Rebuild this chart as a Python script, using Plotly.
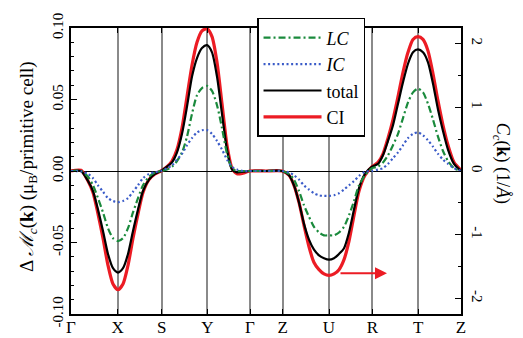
import plotly.graph_objects as go

# k-path coordinate (distance along the path) and high-symmetry points
k_path = [0, 10, 17, 22, 27, 32, 37, 42, 47, 52, 57, 62, 67, 72, 78, 84, 90,
          96, 101, 106, 111, 116, 121, 126, 131, 136, 141, 146, 151, 156, 161, 166, 172, 179, 195, 211,
          218, 223, 228, 233, 238, 243, 248, 253, 258, 263, 268, 273, 278, 283, 288, 294, 301,
          307, 312, 317, 322, 327, 332, 337, 342, 347, 352, 357, 362, 367, 372, 377, 383, 390]

sym_pos = [0, 46.7, 90.7, 136.3, 179, 211.7, 258, 301.3, 347.3, 390]
sym_lab = ["Γ", "X", "S", "Y", "Γ", "Z", "U", "R", "T", "Z"]

total = [0, 0, -0.007, -0.014, -0.027, -0.042, -0.058, -0.068, -0.071, -0.068, -0.058, -0.042, -0.027, -0.014, -0.006, -0.002, 0,
         0.003, 0.006, 0.013, 0.026, 0.045, 0.066, 0.079, 0.086, 0.088, 0.083, 0.066, 0.040, 0.015, 0.001, -0.001, -0.0005, 0, 0, 0,
         -0.003, -0.010, -0.022, -0.037, -0.048, -0.055, -0.059, -0.061, -0.062, -0.061, -0.058, -0.054, -0.043, -0.027, -0.012, -0.002, 0.003,
         0.005, 0.011, 0.021, 0.032, 0.047, 0.062, 0.075, 0.083, 0.085, 0.083, 0.076, 0.061, 0.043, 0.028, 0.015, 0.005, 0]

ci = [0, 0.0005, -0.007, -0.015, -0.030, -0.047, -0.066, -0.079, -0.083, -0.079, -0.066, -0.047, -0.030, -0.015, -0.006, -0.002, 0,
      0.003, 0.007, 0.015, 0.030, 0.052, 0.074, 0.090, 0.098, 0.0995, 0.094, 0.076, 0.047, 0.018, 0.002, -0.002, -0.0015, 0, 0, 0,
      -0.003, -0.010, -0.022, -0.038, -0.053, -0.064, -0.069, -0.072, -0.073, -0.072, -0.069, -0.062, -0.049, -0.031, -0.014, -0.003, 0.003,
      0.006, 0.012, 0.023, 0.036, 0.052, 0.069, 0.083, 0.092, 0.094, 0.092, 0.084, 0.068, 0.049, 0.032, 0.018, 0.006, 0.0005]

lc = [0, 0, -0.004, -0.010, -0.019, -0.029, -0.040, -0.047, -0.049, -0.047, -0.040, -0.029, -0.019, -0.010, -0.004, -0.001, 0,
      0.001, 0.003, 0.007, 0.013, 0.024, 0.040, 0.053, 0.058, 0.0595, 0.056, 0.046, 0.030, 0.012, 0.002, 0, 0, 0, 0, 0,
      -0.002, -0.006, -0.014, -0.024, -0.032, -0.039, -0.043, -0.045, -0.045, -0.045, -0.043, -0.039, -0.031, -0.021, -0.010, -0.003, 0.002,
      0.003, 0.006, 0.011, 0.018, 0.026, 0.037, 0.048, 0.055, 0.0576, 0.055, 0.047, 0.036, 0.024, 0.014, 0.007, 0.002, 0]

ic = [0, -0.0003, -0.002, -0.005, -0.010, -0.0145, -0.019, -0.021, -0.0218, -0.021, -0.019, -0.0145, -0.010, -0.005, -0.002, -0.0008, 0,
      0.002, 0.004, 0.008, 0.012, 0.018, 0.023, 0.027, 0.0285, 0.0286, 0.026, 0.021, 0.015, 0.008, 0.003, 0.001, 0, 0, 0, 0,
      -0.001, -0.003, -0.006, -0.010, -0.013, -0.0155, -0.017, -0.0174, -0.0174, -0.017, -0.0155, -0.013, -0.010, -0.007, -0.0035, -0.0005, 0,
      0.001, 0.002, 0.005, 0.009, 0.013, 0.018, 0.023, 0.026, 0.027, 0.025, 0.0215, 0.017, 0.012, 0.008, 0.005, 0.002, 0]

left_ticks = [-0.10, -0.05, 0.0, 0.05, 0.10]
left_tick_text = ["-0.10", "-0.05", "0.00", "0.05", "0.10"]
right_ticks = [-2, -1, 0, 1, 2]
right_tick_text = ["-2", "-1", "0", "1", "2"]

arrow_start = (268, -0.0715)
arrow_end = (316, -0.0715)

FONT = "Liberation Serif, Times New Roman, serif"

fig = go.Figure()
fig.add_trace(go.Scatter(x=k_path, y=ci, mode="lines", name="CI", legendrank=4,
                         line=dict(color="#ec1c24", width=3.2, shape="spline", smoothing=0.7)))
fig.add_trace(go.Scatter(x=k_path, y=total, mode="lines", name="total", legendrank=3,
                         line=dict(color="black", width=2.2, shape="spline", smoothing=0.7)))
fig.add_trace(go.Scatter(x=k_path, y=lc, mode="lines", name="<i>LC</i>", legendrank=1,
                         line=dict(color="#1a8a3c", width=2.2, dash="7px,3px,2px,3px", shape="spline", smoothing=0.7)))
fig.add_trace(go.Scatter(x=k_path, y=ic, mode="lines", name="<i>IC</i>", legendrank=2,
                         line=dict(color="#3a5bc8", width=2.2, dash="2px,2.6px", shape="spline", smoothing=0.7)))
fig.add_trace(go.Scatter(x=[None], y=[None], yaxis="y2", showlegend=False, hoverinfo="skip"))

fig.update_layout(
    width=523, height=338,
    margin=dict(l=71, r=62, t=28, b=24, autoexpand=False),
    plot_bgcolor="white", paper_bgcolor="white",
    font=dict(family=FONT, color="black"),
    showlegend=True,
    legend=dict(x=0.477, y=1.035, xanchor="left", yanchor="top",
                bordercolor="black", borderwidth=1.5, bgcolor="white",
                font=dict(family=FONT, size=18), itemwidth=58, tracegroupgap=0),
    xaxis=dict(range=[0, 390], tickvals=sym_pos, ticktext=sym_lab,
               showgrid=True, gridcolor="#8a8a8a", gridwidth=1.5,
               ticks="inside", ticklen=5, tickcolor="black", tickwidth=1,
               showline=True, linecolor="black", linewidth=1.5, mirror="ticks",
               zeroline=False, tickfont=dict(family=FONT, size=17), automargin=False,
               ticklabelstandoff=-3),
    yaxis=dict(range=[-0.1, 0.1], tickvals=left_ticks, ticktext=left_tick_text,
               tickangle=-90, ticks="inside", ticklen=6, tickcolor="black",
               minor=dict(dtick=0.01, ticks="inside", ticklen=3, tickcolor="black", showgrid=False),
               showgrid=False, zeroline=True, zerolinecolor="black", zerolinewidth=1.2,
               showline=True, linecolor="black", linewidth=1.5, mirror=True,
               tickfont=dict(family=FONT, size=15), automargin=False),
    yaxis2=dict(overlaying="y", side="right", range=[-2.242, 2.242],
                tickvals=right_ticks, ticktext=right_tick_text, tickangle=90,
                ticks="inside", ticklen=6, tickcolor="black",
                minor=dict(dtick=0.5, ticks="inside", ticklen=3, tickcolor="black", showgrid=False),
                showgrid=False, zeroline=False, showline=False, ticklabelstandoff=7,
                tickfont=dict(family=FONT, size=15), automargin=False),
)

fig.add_annotation(x=-0.110, y=0.514, xref="paper", yref="paper", showarrow=False,
                   xanchor="center", yanchor="middle",
                   text="Δ <i>ℳ</i><sub><i>c</i></sub>(<b>k</b>) (μ<sub>B</sub>/primitive cell)",
                   textangle=-90, font=dict(family=FONT, size=19))
fig.add_annotation(x=1.103, y=0.528, xref="paper", yref="paper", showarrow=False,
                   xanchor="center", yanchor="middle",
                   text="<i>C</i><sub><i>c</i></sub>(<b>k</b>) (1/<i>Å</i>)",
                   textangle=90, font=dict(family=FONT, size=18))
fig.add_annotation(x=arrow_end[0], y=arrow_end[1], ax=arrow_start[0], ay=arrow_start[1],
                   xref="x", yref="y", axref="x", ayref="y", text="",
                   showarrow=True, arrowhead=2, arrowsize=1.2, arrowwidth=2, arrowcolor="#ec1c24")

fig.write_html("out.html")
